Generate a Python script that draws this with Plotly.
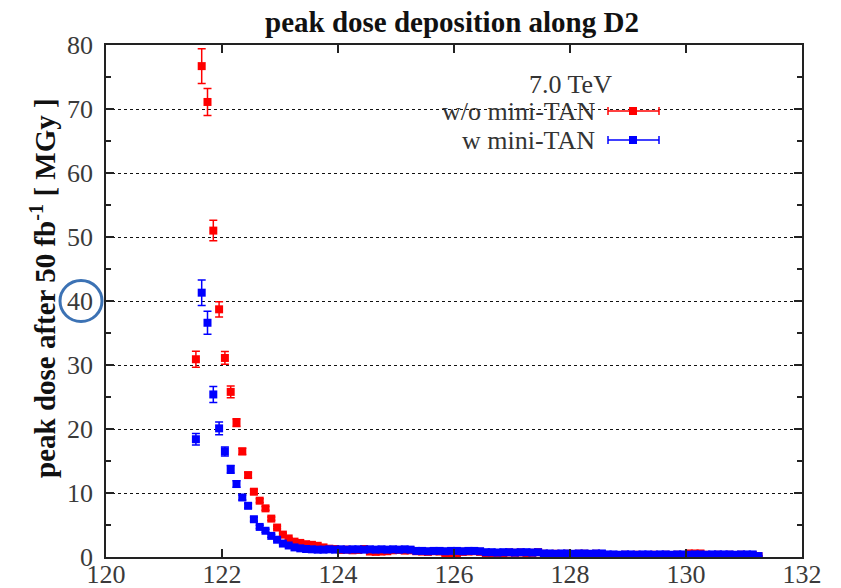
import plotly.graph_objects as go

# bin centres along D2 [m]
x_start = 121.55
n_bins = 98
position = [round(x_start + 0.1 * i, 2) for i in range(n_bins)]

# peak dose, w/o mini-TAN (red)
dose_wo = [30.9, 76.7, 71.1, 51.0, 38.7, 31.1, 25.8, 21.0, 16.5, 12.8,
           10.2, 8.8, 7.6, 6.0, 4.6, 3.5, 2.9, 2.4, 2.2, 2.0,
           1.9, 1.75, 1.5, 1.3, 1.25, 1.1, 1.15, 1.05, 1.1, 1.25,
           0.85, 0.8, 0.85, 0.9, 1.05, 1.1, 1.0, 1.05, 0.9, 0.85,
           0.8, 0.9, 0.85, 0.45, 0.4, 0.45, 0.8, 0.85, 0.9, 0.8,
           0.2, 0.2, 0.2, 0.6, 0.7, 0.65, 0.7, 0.6, 0.65, 0.75,
           0.5, 0.45, 0.5, 0.45, 0.5, 0.45, 0.5, 0.5, 0.45, 0.5,
           0.45, 0.05, 0.05, 0.3, 0.35, 0.3, 0.35, 0.05, 0.3, 0.35,
           0.3, 0.35, 0.3, 0.35, 0.3, 0.55, 0.55, 0.55, 0.35, 0.3,
           0.35, 0.3, 0.35, 0.3, 0.35, 0.3, 0.3, 0.1]
err_wo = [1.25, 2.7, 2.1, 1.6, 1.2, 1.0, 0.9, 0.6, 0.5, 0.4,
          0.35, 0.3, 0.3, 0.25, 0.2, 0.2, 0.15, 0.15, 0.15, 0.15] + [0.1] * 78

# peak dose, w mini-TAN (blue)
dose_w = [18.4, 41.3, 36.6, 25.4, 20.1, 16.5, 13.7, 11.4, 9.3, 8.0,
          5.9, 4.7, 4.1, 3.3, 2.7, 2.1, 1.8, 1.5, 1.35, 1.25,
          1.2, 1.15, 1.15, 1.2, 1.15, 1.2, 1.15, 1.2, 1.2, 1.15,
          1.2, 1.15, 1.2, 1.15, 1.2, 1.15, 1.2, 1.15,
          0.95, 0.95, 0.9, 0.95, 0.95, 0.9, 0.95, 0.95, 0.9, 0.95, 0.95, 0.9,
          0.75, 0.75, 0.7, 0.75, 0.75, 0.7, 0.75, 0.75, 0.7, 0.75,
          0.55, 0.55, 0.5, 0.55, 0.55, 0.5, 0.55, 0.55, 0.5, 0.55, 0.55,
          0.4, 0.4, 0.35, 0.4, 0.4, 0.35, 0.4, 0.4, 0.35, 0.4,
          0.4, 0.35, 0.4, 0.4, 0.35, 0.4, 0.4, 0.35, 0.4, 0.4,
          0.4, 0.4, 0.35, 0.4, 0.4, 0.4, 0.15]
err_w = [0.9, 2.0, 1.8, 1.25, 1.0, 0.7, 0.6, 0.5, 0.4, 0.35,
         0.3, 0.25, 0.25, 0.2, 0.2, 0.15, 0.15, 0.15, 0.1, 0.1] + [0.1] * 78

y_ticks = [0, 10, 20, 30, 40, 50, 60, 70, 80]
x_ticks = [120, 122, 124, 126, 128, 130, 132]

RED = "#ff0000"
BLUE = "#0000ff"
SERIF = "Liberation Serif"

fig = go.Figure()
for ys, es, col, name in [(dose_wo, err_wo, RED, "w/o mini-TAN"),
                          (dose_w, err_w, BLUE, "w mini-TAN")]:
    fig.add_trace(go.Scatter(
        x=position, y=ys, mode="markers", name=name, showlegend=False,
        marker=dict(symbol="square", size=8, color=col, line=dict(width=0)),
        error_y=dict(type="data", array=es, visible=True, color=col,
                     thickness=1.5, width=4),
    ))

axis_common = dict(
    showline=True, linecolor="#222222", linewidth=1.5, mirror="ticks",
    ticks="inside", tickcolor="#222222", tickwidth=1.5, ticklen=8,
    tickfont=dict(family=SERIF, size=26, color="#3a3a3a"),
    zeroline=False, automargin=False,
)

fig.update_xaxes(range=[120, 132], tickvals=x_ticks, showgrid=False,
                 ticklabelstandoff=-7, **axis_common)
fig.update_yaxes(
    range=[0, 80], tickvals=y_ticks, showgrid=True, gridcolor="#111111",
    griddash="dot", gridwidth=1, ticklabelstandoff=6,
    minor=dict(dtick=5, ticks="inside", ticklen=5, tickcolor="#222222", showgrid=False),
    **axis_common,
)

# legend drawn gnuplot-style (text right-aligned, sample on the right)
def px(xp):
    return (xp - 106) / 696

def py(yp):
    return (557 - yp) / 512

shapes = []
annotations = [
    # y-axis title
    dict(text="<b>peak dose after 50 fb<sup>-1</sup> [ MGy ]</b>", textangle=-90,
         x=px(43), y=py(288), xref="paper", yref="paper", showarrow=False,
         xanchor="center", yanchor="middle",
         font=dict(family=SERIF, size=29, color="#111111")),
    dict(text="7.0 TeV", x=px(570), y=py(84), xref="paper", yref="paper",
         showarrow=False, xanchor="center", yanchor="middle",
         font=dict(family=SERIF, size=26, color="#333333")),
]
for label, col, yc in [("w/o mini-TAN", RED, 111), ("w mini-TAN", BLUE, 140)]:
    annotations.append(dict(text=label, x=px(597), y=py(yc), xref="paper", yref="paper",
                            showarrow=False, xanchor="right", yanchor="middle",
                            font=dict(family=SERIF, size=26, color="#333333")))
    shapes.append(dict(type="line", xref="paper", yref="paper",
                       x0=px(608), x1=px(659), y0=py(yc), y1=py(yc),
                       line=dict(color=col, width=1.5)))
    for xe in (608, 659):
        shapes.append(dict(type="line", xref="paper", yref="paper",
                           x0=px(xe), x1=px(xe), y0=py(yc - 4), y1=py(yc + 4),
                           line=dict(color=col, width=1.5)))
    shapes.append(dict(type="rect", xref="paper", yref="paper",
                       x0=px(629), x1=px(637), y0=py(yc + 4), y1=py(yc - 4),
                       fillcolor=col, line=dict(width=0)))

# highlight circle round the "40" tick label
shapes.append(dict(type="circle", xref="paper", yref="y",
                   x0=px(60), x1=px(102), y0=36.8, y1=43.2,
                   line=dict(color="#3c72b4", width=3)))

# the page adds an 8 px body margin, so figure pixels = screen pixels - 8
fig.update_layout(
    width=841, height=588,
    margin=dict(l=98, r=47, t=37, b=39),
    paper_bgcolor="white", plot_bgcolor="white",
    title=dict(text="<b>peak dose deposition along D2</b>", x=444 / 841, xanchor="center",
               y=1 - 14 / 588, yanchor="middle",
               font=dict(family=SERIF, size=29, color="#111111")),
    shapes=shapes, annotations=annotations,
)

fig.write_html("out.html")
